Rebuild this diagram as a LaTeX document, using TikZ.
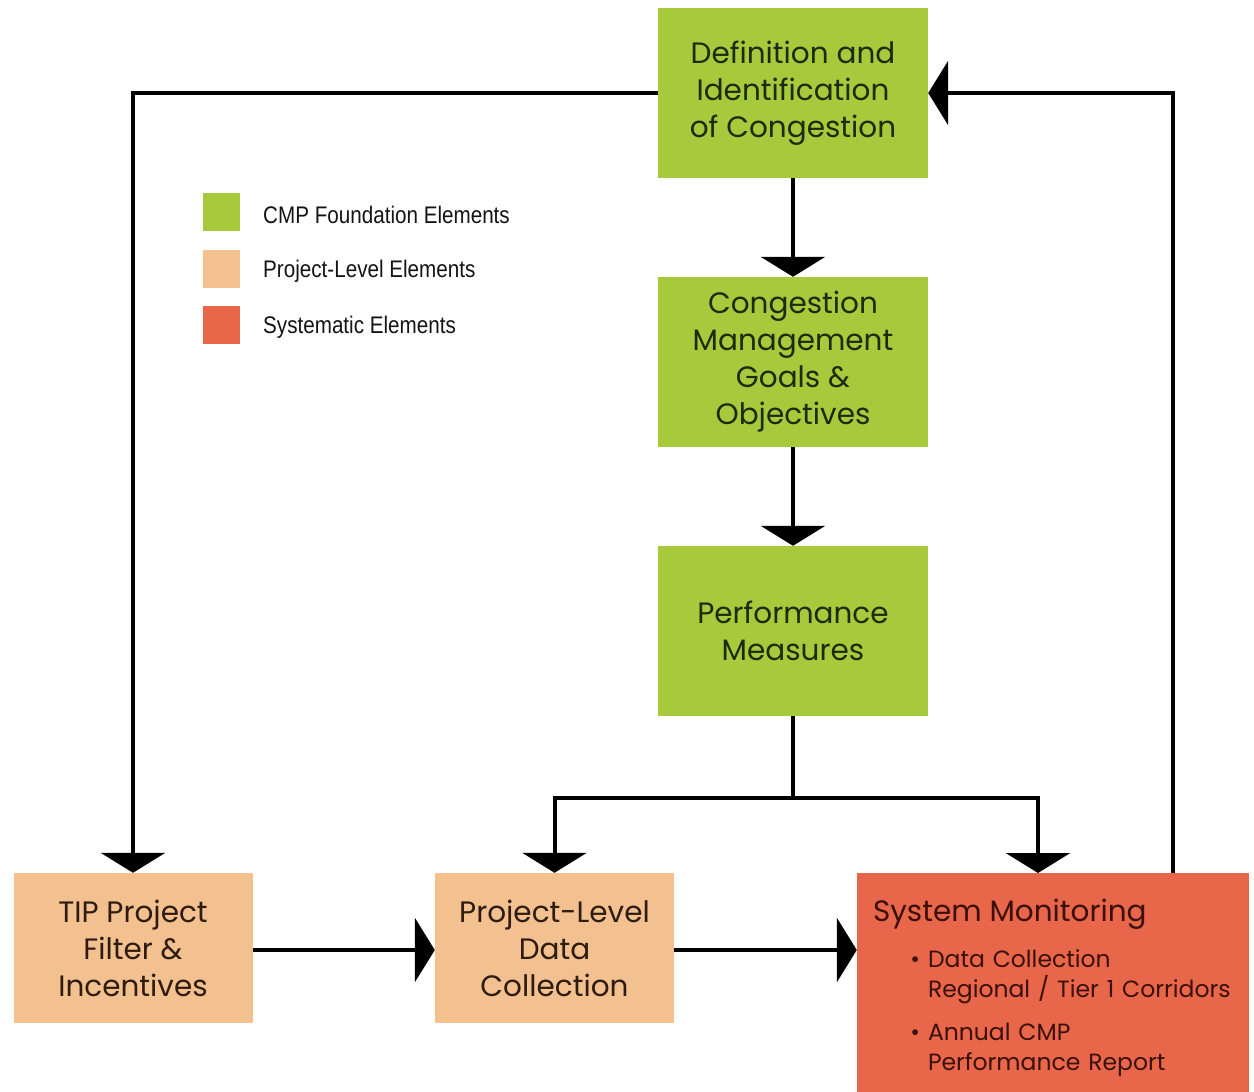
\documentclass[tikz,border=0pt]{standalone}
\usepackage{fontspec}
\setmainfont{Poppins}
\newfontfamily\legendfont[FakeStretch=0.86]{Liberation Sans}
\usetikzlibrary{arrows.meta}
\definecolor{cgreen}{HTML}{A6CA3C}
\definecolor{cpeach}{HTML}{F2C18F}
\definecolor{cred}{HTML}{E8664A}
\definecolor{tgreen}{HTML}{1E2A0A}
\definecolor{tpeach}{HTML}{2E1C10}
\definecolor{tred}{HTML}{3A1008}
\tikzset{
  box/.style={rectangle, inner sep=0pt, align=center, font=\fontsize{29.5}{37}\selectfont},
  gbox/.style={box, fill=cgreen, text=tgreen, minimum width=270pt, minimum height=170pt},
  pbox/.style={box, fill=cpeach, text=tpeach, minimum width=239pt, minimum height=150pt},
  rbox/.style={rectangle, fill=cred, text=tred, minimum width=392pt, minimum height=219pt,
     inner xsep=6pt, inner ysep=0pt, text width=380pt, align=left,
     font=\fontsize{23.5}{30}\selectfont},
  line/.style={line width=4pt, black},
  conn/.style={line, -{Triangle[width=64pt, length=20pt]}},
  legsq/.style={rectangle, minimum width=37pt, minimum height=38pt, inner sep=0pt},
  legtxt/.style={anchor=west, inner sep=0pt, font=\legendfont\fontsize{24}{28}\selectfont, text=black!92},
}
\newcommand{\smtitle}{\fontsize{29.5}{30}\selectfont}
\newcommand{\smind}{\hspace*{65pt}}
\begin{document}
\begin{tikzpicture}[x=1pt, y=-1pt]
\useasboundingbox (0,0) rectangle (1254,1092);
\fill[white] (0,0) rectangle (1254,1092);

% boxes
\node[gbox] (def) at (793,93) {Definition and\\Identification\\of Congestion};
\node[gbox] (cong) at (793,362) {Congestion\\Management\\Goals \&\\Objectives};
\node[gbox] (perf) at (793,631) {Performance\\Measures};
\node[pbox] (tip) at (133,948) {TIP Project\\Filter \&\\Incentives};
\node[pbox] (pld) at (554.5,948) {Project-Level\\Data\\Collection};
\node[rbox] (sm) at (1053,982.5) {%
  \hspace*{10pt}\rule{0pt}{34pt}\mbox{\smtitle System Monitoring}\\[16pt]
  \smind\mbox{\llap{\textbullet\ }Data Collection}\\
  \smind\mbox{Regional / Tier 1 Corridors}\\[13pt]
  \smind\mbox{\llap{\textbullet\ }Annual CMP}\\
  \smind\mbox{Performance Report}};

% legend
\node[legsq, fill=cgreen] (lg1) at (221.5,212) {};
\node[legsq, fill=cpeach] (lg2) at (221.5,269) {};
\node[legsq, fill=cred] (lg3) at (221.5,325) {};
\node[legtxt] (lt1) at (263,215) {CMP Foundation Elements};
\node[legtxt] (lt2) at (263,271) {Project-Level Elements};
\node[legtxt] (lt3) at (263,327) {Systematic Elements};

% coordinates
\coordinate (split) at (793,798);
\coordinate (smin) at (1038,873);
\coordinate (smout) at (1173,873);

% connectors
\draw[conn] (def) -- (cong);
\draw[conn] (cong) -- (perf);
\draw[line] (perf.south) -- (split);
\draw[conn] (split) -| (pld.north);
\draw[conn] (split) -| (smin);
\draw[conn] (def.west) -| (tip.north);
\draw[conn] (smout) |- (def.east);
\draw[conn] (tip.east |- 0,950) -- (pld.west |- 0,950);
\draw[conn] (pld.east |- 0,950) -- (sm.west |- 0,950);
\end{tikzpicture}
\end{document}
